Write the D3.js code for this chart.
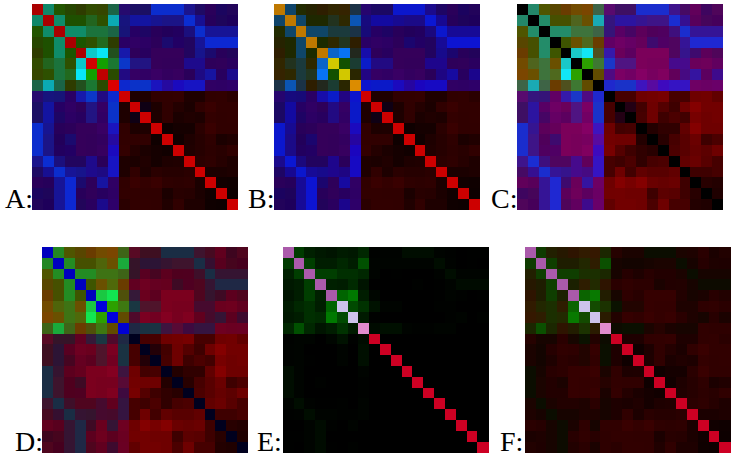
<!DOCTYPE html>
<html>
<head>
<meta charset="utf-8">
<script src="https://cdn.jsdelivr.net/npm/d3@7/dist/d3.min.js"></script>
<style>
html,body{margin:0;padding:0;background:#fff}
svg{display:block}
</style>
</head>
<body>
<svg id="chart" width="735" height="457"></svg>
<script>
// Upper triangles of the three symmetric 19x19 similarity channels (row i holds columns i+1..18).
const redUpper = [
  [40,90,100,120,130,140,70, 100,70,70,30,30,30,70,80,110,70,90],
  [40,80,80,90,120,30, 60,50,50,60,70,70,30,60,100,80,80],
  [40,40,70,70,70, 60,100,80,105,90,90,70,30,60,60,60],
  [70,120,90,120, 110,125,115,115,70,90,90,60,35,35,35],
  [30,20,90, 60,120,105,140,140,140,90,60,70,105,90],
  [50,70, 30,90,90,140,135,135,80,80,120,125,110],
  [110, 90,140,130,150,135,145,110,80,60,105,70],
  [35,30,30,70,100,70,60,60,125,120,120],
  [80,80,125,130,135,80,80,125,128,110],
  [40,75,125,95,70,125,150,130,130],
  [80,125,70,85,75,135,125,130],
  [40,55,55,110,150,125,125],
  [45,80,100,120,70,85],
  [85,100,115,105,125],
  [110,120,100,80],
  [70,70,80],
  [45,40],
  [35]
];
const greenUpper = [
  [135,85,70,60,75,70,100, 10,15,15,45,45,45,20,10,0,5,5],
  [140,80,80,100,80,170, 20,20,20,20,20,20,45,15,0,5,0],
  [140,140,115,115,100, 20,0,5,0,0,0,15,45,20,20,20],
  [85,80,105,60, 0,0,0,0,10,0,5,20,40,40,40],
  [200,230,80, 25,0,0,0,0,0,5,20,10,0,5],
  [160,120, 55,20,20,0,0,0,10,10,0,0,0],
  [75, 10,0,0,0,0,0,0,10,20,0,10],
  [40,50,50,20,10,10,20,20,0,0,0],
  [0,0,0,0,0,0,0,0,0,0],
  [0,0,0,0,0,0,0,0,0],
  [0,0,0,0,0,0,0,0],
  [0,0,0,0,0,0,0],
  [0,0,0,0,0,0],
  [0,0,0,0,0],
  [0,0,0,0],
  [0,0,0],
  [0,0],
  [0]
];
const blueUpper = [
  [105,0,0,0,0,0,70, 110,100,100,205,205,205,140,100,90,95,90],
  [105,0,0,30,0,180, 125,160,160,145,135,135,210,145,90,90,90],
  [105,105,60,60,70, 120,100,100,90,90,95,125,205,150,150,150],
  [0,0,30,0, 100,100,100,90,110,100,95,150,210,210,210],
  [200,245,30, 170,90,95,90,90,90,95,140,110,90,90],
  [0,50, 200,130,130,90,90,90,140,140,90,90,95],
  [0, 130,100,100,100,95,95,90,130,160,95,140],
  [205,200,200,190,160,190,195,195,100,100,105],
  [0,0,0,0,0,0,0,0,0,0],
  [20,0,0,0,0,0,0,0,0],
  [0,0,0,0,0,0,0,0],
  [0,0,0,0,0,0,0],
  [0,0,0,0,0,0],
  [0,0,0,0,0],
  [0,0,0,0],
  [0,0,0],
  [0,0],
  [0]
];

// Diagonal colours of each panel.
const diagA = ["#aa0000","#aa0000","#aa0000","#aa0000","#aa0000","#d20000","#c00000","#dc0000","#cd0000","#cd0000","#cd0000","#cd0000","#cd0000","#cd0000","#cd0000","#cd0000","#cd0000","#cd0000","#cd0000"];
const diagB = ["#be7800","#be7800","#be7800","#be7800","#be7800","#d2c800","#d2c800","#dc8c00","#cd0000","#cd0000","#cd0000","#cd0000","#cd0000","#cd0000","#cd0000","#cd0000","#cd0000","#cd0000","#cd0000"];
const diagC = ["#000000","#000000","#000000","#000000","#000000","#000000","#000000","#000000","#000000","#000000","#000000","#000000","#000000","#000000","#000000","#000000","#000000","#000000","#000000"];
const diagD = ["#0000be","#0000be","#0000be","#0000be","#0000be","#0000dc","#0000dc","#0000d2","#00001e","#00001e","#00001e","#00001e","#00001e","#00001e","#00001e","#00001e","#00001e","#00001e","#00001e"];
const diagE = ["#aa5aaa","#aa5aaa","#aa5aaa","#aa5aaa","#aa5aaa","#cdc3eb","#cdc3eb","#e18ccd","#cd0023","#cd0023","#cd0023","#cd0023","#cd0023","#cd0023","#cd0023","#cd0023","#cd0023","#cd0023","#cd0023"];

// Channel gains per panel, and where each panel and its letter sit.
const panelNames = ["A:","B:","C:","D:","E:","F:"];
const panelDiagonals = [diagA, diagB, diagC, diagD, diagE, diagE];
const redGain   = [0.38, 0.38, 0.88, 0.88, 0, 0.38];
const greenGain = [1, 0.5, 1, 1, 0.5, 0.5];
const blueGain  = [1, 1, 1, 0.33, 0, 0];
const greenPower = [0, 0, 0, 0, 0.35, 0.35]; // extra falloff of faint green in panels E and F
const panelLeft = [32.3, 274, 517.3, 42.3, 282.7, 524.7];
const panelTop  = [4.3, 4.3, 4.3, 247, 247, 247];
const labelLeft = [5, 248, 491, 15, 257, 500];
const labelBase = [208, 208, 208, 451, 451, 451];
const panelSize = 205.5;
const cellCount = 19;

const svg = d3.select("#chart");
const indices = d3.range(cellCount);

// Read a symmetric channel value from its upper triangle.
const lookup = (tri, i, j) => {
  const a = Math.min(i, j), b = Math.max(i, j);
  return tri[a][b - a - 1];
};

panelNames.forEach((name, p) => {
  const x = d3.scaleBand().domain(indices).range([panelLeft[p], panelLeft[p] + panelSize]);
  const y = d3.scaleBand().domain(indices).range([panelTop[p], panelTop[p] + panelSize]);
  const cells = d3.cross(indices, indices);

  const colour = ([i, j]) => {
    if (i === j) return panelDiagonals[p][i];
    const g0 = lookup(greenUpper, i, j);
    return d3.rgb(
      lookup(redUpper, i, j) * redGain[p],
      g0 * greenGain[p] * Math.pow(g0 / 200, greenPower[p]),
      lookup(blueUpper, i, j) * blueGain[p]
    ).formatRgb();
  };

  const g = svg.append("g").attr("class", "panel");
  g.selectAll("rect")
    .data(cells)
    .join("rect")
    .attr("x", d => x(d[1]))
    .attr("y", d => y(d[0]))
    .attr("width", x.bandwidth() + 0.5)
    .attr("height", y.bandwidth() + 0.5)
    .attr("fill", colour)
    .attr("shape-rendering", "crispEdges");

  svg.append("text")
    .attr("x", labelLeft[p])
    .attr("y", labelBase[p])
    .attr("font-family", "'Liberation Serif', serif")
    .attr("font-size", 28)
    .attr("fill", "#000")
    .text(name);
});
</script>
</body>
</html>
